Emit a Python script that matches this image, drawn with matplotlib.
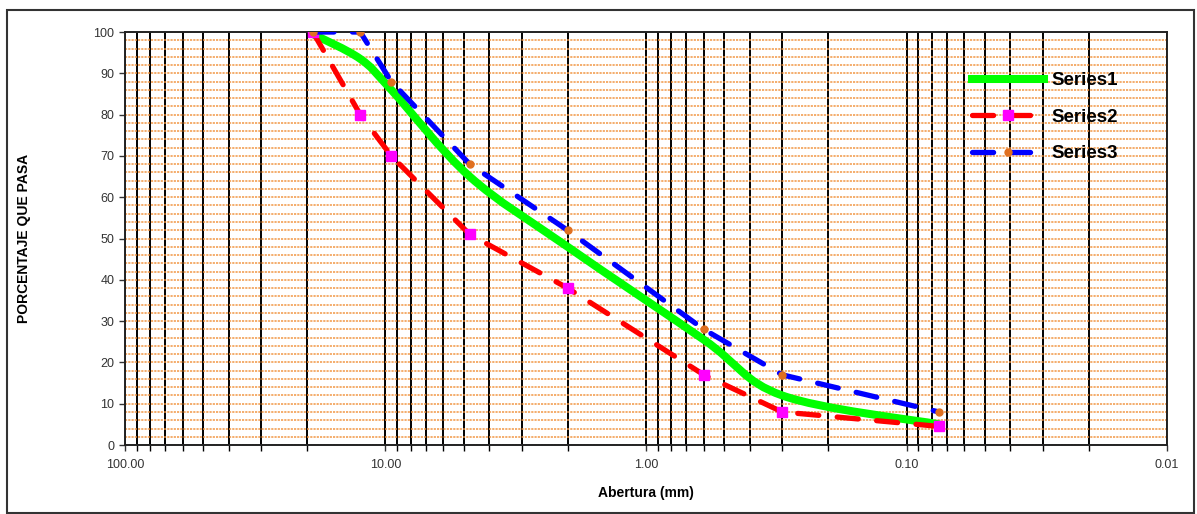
import numpy as np
import matplotlib.pyplot as plt
from matplotlib.path import Path
from matplotlib.patches import PathPatch, Rectangle
from matplotlib.lines import Line2D

plt.rcParams['font.family'] = ['Liberation Sans', 'DejaVu Sans']

# sieve openings (mm) and percent passing
abertura = [19.0, 12.5, 9.5, 4.75, 2.0, 0.6, 0.3, 0.075]
series1 = [99.5, 93.5, 86, 65, 48, 25.5, 12, 5]
series2 = [100, 80, 70, 51, 38, 17, 8, 4.5]
series3 = [100, 100, 88, 68, 52, 28, 17, 8]
xtick_vals = [100, 10, 1, 0.1, 0.01]
xtick_labels = ["100.00", "10.00", "1.00", "0.10", "0.01"]


def smooth_path(x, y):
    # Catmull-Rom style smoothing in log-x space, drawn as cubic beziers
    lx = np.log10(x)
    y = np.asarray(y, float)
    n = len(lx)
    verts = [(x[0], y[0])]
    codes = [Path.MOVETO]
    for i in range(n - 1):
        p0 = (lx[max(i - 1, 0)], y[max(i - 1, 0)])
        p1 = (lx[i], y[i])
        p2 = (lx[i + 1], y[i + 1])
        p3 = (lx[min(i + 2, n - 1)], y[min(i + 2, n - 1)])
        c1 = (p1[0] + (p2[0] - p0[0]) / 6, p1[1] + (p2[1] - p0[1]) / 6)
        c2 = (p2[0] - (p3[0] - p1[0]) / 6, p2[1] - (p3[1] - p1[1]) / 6)
        for c in (c1, c2, p2):
            verts.append((10 ** c[0], c[1]))
            codes.append(Path.CURVE4)
    return Path(verts, codes)


fig = plt.figure(figsize=(11.97, 5.14), dpi=100)
ax = fig.add_axes([0.1044, 0.1342, 0.8706, 0.8035])
ax.set_xscale('log')
ax.set_xlim(100, 0.01)
ax.set_ylim(0, 100)

# grid
ax.set_yticks(np.arange(0, 101, 10))
ax.set_yticks(np.arange(0, 101, 2), minor=True)
ax.set_xticks(xtick_vals)
ax.set_xticklabels(xtick_labels)
ax.grid(True, axis='x', which='both', color='black', lw=1.4)
ax.grid(True, axis='y', which='both', color='#F0913A', lw=1.3, ls=(0, (1.2, 0.6)), alpha=0.8)
ax.set_axisbelow(True)
ax.tick_params(axis='both', which='major', labelsize=9, length=4, width=1, colors='#333333')
ax.tick_params(axis='x', which='minor', length=4, width=1, labelbottom=False)
ax.tick_params(axis='y', which='minor', length=0)
ax.tick_params(axis='x', pad=6)
for s in ax.spines.values():
    s.set_linewidth(1.4)
    s.set_color('#222222')

ax.add_patch(PathPatch(smooth_path(abertura, series1), fill=False, ec='#00FF00', lw=5.8,
                       capstyle='round', zorder=3))
ax.plot(abertura, series2, color='red', lw=3.8, ls=(0, (4, 3.5)), dash_capstyle='round',
        marker='s', ms=7, mfc='#FF00FF', mec='#FF00FF', zorder=4)
ax.plot(abertura, series3, color='#0000FF', lw=3.8, ls=(0, (4, 3.5)), dash_capstyle='round',
        marker='o', ms=5, mfc='#E07020', mec='#E07020', zorder=4)

handles = [Line2D([], [], color='#00FF00', lw=5.8),
           Line2D([], [], color='red', lw=3.8, ls=(0, (4, 3)), dash_capstyle='round',
                  marker='s', ms=7, mfc='#FF00FF', mec='#FF00FF'),
           Line2D([], [], color='#0000FF', lw=3.8, ls=(0, (4, 3)), dash_capstyle='round',
                  marker='o', ms=5, mfc='#E07020', mec='#E07020')]
leg = ax.legend(handles, ['Series1', 'Series2', 'Series3'], loc='upper left',
                bbox_to_anchor=(0.8129, 0.903), frameon=False, borderpad=0,
                borderaxespad=0, handlelength=3.85, handletextpad=0.37,
                labelspacing=1.03, prop={'weight': 'bold', 'size': 13.5})

ax.set_xlabel('Abertura (mm)', fontsize=10, fontweight='bold', labelpad=11)
ax.set_ylabel('PORCENTAJE QUE PASA', fontsize=10, fontweight='bold', labelpad=45)

fig.patches.append(Rectangle((7 / 1197, 0.002), 1187 / 1197, 1 - 10 / 514 - 0.002,
                             transform=fig.transFigure, fill=False, ec='#333333', lw=1.5))

fig.savefig('out.png', dpi=100)
